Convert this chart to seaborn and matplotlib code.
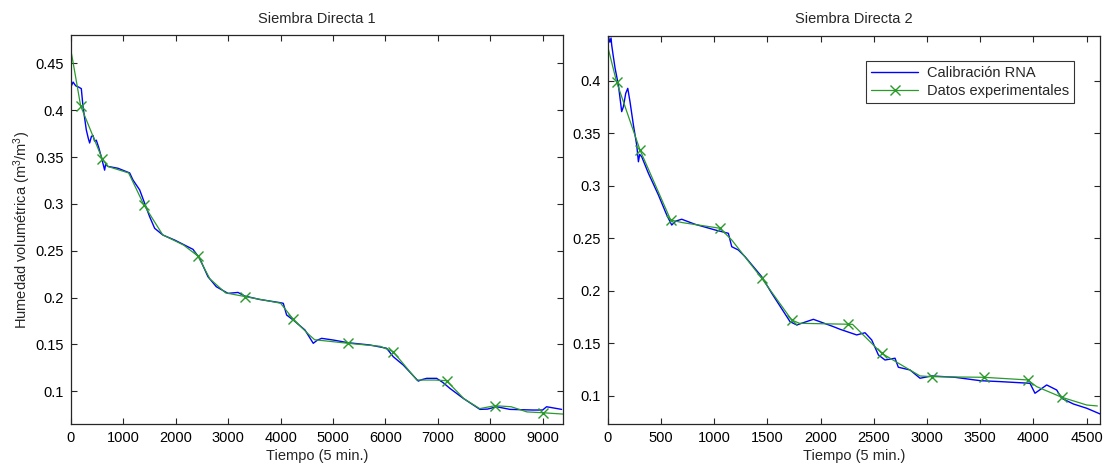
import numpy as np
import pandas as pd
import matplotlib
matplotlib.use("Agg")
import matplotlib.pyplot as plt
from matplotlib.ticker import FuncFormatter
import seaborn as sns

# ---------------- data: Siembra Directa 1 ----------------
rna1_x = [0, 40, 90, 134, 197, 229, 292, 330, 356, 390, 420, 450, 483, 530, 579, 642, 660, 706,
          897, 1120, 1183, 1310, 1406, 1501, 1597, 1755, 1978, 2169, 2328, 2455, 2614, 2773,
          2996, 3186, 3314, 3600, 4000, 4051, 4115, 4242, 4465, 4623, 4700, 4783, 5005, 5291,
          5705, 6024, 6150, 6341, 6627, 6700, 6787, 6978, 7104, 7231, 7485, 7804, 7950, 8122,
          8376, 8821, 9000, 9076, 9362]
rna1_y = [0.425, 0.430, 0.426, 0.425, 0.423, 0.404, 0.379, 0.370, 0.365, 0.372, 0.373, 0.367,
          0.368, 0.360, 0.350, 0.336, 0.342, 0.340, 0.338, 0.333, 0.3255, 0.315, 0.3006,
          0.2863, 0.2739, 0.2667, 0.2614, 0.256, 0.2515, 0.2419, 0.2223, 0.2116, 0.2045,
          0.2055, 0.2017, 0.198, 0.1945, 0.1939, 0.1814, 0.176, 0.1654, 0.1512, 0.1545,
          0.1565, 0.1547, 0.1518, 0.1494, 0.1459, 0.1369, 0.128, 0.1109, 0.1125, 0.1138,
          0.1138, 0.1091, 0.1031, 0.0925, 0.0807, 0.0810, 0.0835, 0.0807, 0.0800, 0.0800,
          0.0835, 0.0807]

exp1_x = [0, 40, 185, 598, 700, 1100, 1393, 1750, 2150, 2423, 2650, 2950, 3320, 4000, 4242,
          4550, 4650, 5291, 5900, 6150, 6600, 6950, 7168, 7500, 7800, 8090, 8400, 8700, 9000,
          9385]
exp1_y = [0.463, 0.451, 0.4044, 0.3479, 0.340, 0.333, 0.2988, 0.267, 0.256, 0.2443, 0.220,
          0.205, 0.2011, 0.194, 0.1768, 0.160, 0.155, 0.1512, 0.148, 0.1422, 0.112, 0.112,
          0.1113, 0.092, 0.0815, 0.0846, 0.0835, 0.0780, 0.0771, 0.0757]
exp1_sample = [0, 0, 1, 1, 0, 0, 1, 0, 0, 1, 0, 0, 1, 0, 1, 0, 0, 1, 0, 1, 0, 0, 1, 0, 0, 1,
               0, 0, 1, 0]

# ---------------- data: Siembra Directa 2 ----------------
rna2_x = [0, 6, 20, 31, 37, 50, 69, 100, 131, 147, 169, 188, 209, 241, 272, 288, 300, 319,
          382, 476, 554, 601, 640, 695, 820, 1008, 1133, 1165, 1227, 1290, 1447, 1541, 1713,
          1776, 1850, 1932, 2120, 2182, 2339, 2417, 2480, 2543, 2605, 2699, 2730, 2840, 2934,
          3044, 3263, 3498, 3686, 3967, 4014, 4124, 4218, 4265, 4374, 4500, 4625]
rna2_y = [0.440, 0.4422, 0.437, 0.441, 0.4343, 0.425, 0.4121, 0.3962, 0.3708, 0.3755,
          0.3883, 0.393, 0.3803, 0.358, 0.339, 0.323, 0.330, 0.3278, 0.312, 0.2913, 0.2723,
          0.2627, 0.2665, 0.2682, 0.2634, 0.258, 0.2548, 0.242, 0.2389, 0.2325, 0.2134,
          0.1976, 0.1705, 0.1674, 0.170, 0.1728, 0.1658, 0.1633, 0.1579, 0.160, 0.1531,
          0.1388, 0.134, 0.1357, 0.1271, 0.1245, 0.1166, 0.1188, 0.1175, 0.1143, 0.1134,
          0.1118, 0.1023, 0.1102, 0.1054, 0.0975, 0.0921, 0.088, 0.0826]

exp2_x = [0, 84, 303, 591, 700, 1055, 1165, 1447, 1728, 1800, 2261, 2300, 2574, 2730, 2934,
          3044, 3535, 3946, 4030, 4265, 4500, 4600]
exp2_y = [0.4327, 0.3988, 0.3342, 0.2675, 0.265, 0.2596, 0.2484, 0.2119, 0.1722, 0.169,
          0.1681, 0.1680, 0.1404, 0.131, 0.1188, 0.1181, 0.1175, 0.115, 0.1086, 0.0985,
          0.0911, 0.0902]
exp2_sample = [0, 1, 1, 1, 0, 1, 0, 1, 1, 0, 1, 0, 1, 0, 0, 1, 1, 1, 0, 1, 0, 0]

titles = ["Siembra Directa 1", "Siembra Directa 2"]
xlabel = "Tiempo (5 min.)"
ylabel = "Humedad volumétrica (m$^3$/m$^3$)"
legend_labels = ["Calibración RNA", "Datos experimentales"]

# ---------------- plotting ----------------
sns.set_theme(style="white")
plt.rcParams["font.family"] = ["Liberation Sans", "DejaVu Sans"]
plt.rcParams["mathtext.fontset"] = "custom"
plt.rcParams["mathtext.rm"] = "Liberation Sans"
plt.rcParams["mathtext.it"] = "Liberation Sans"

fig = plt.figure(figsize=(11.04, 4.67), dpi=100)
ax1 = fig.add_axes([0.0643, 0.0921, 0.4457, 0.8329])
ax2 = fig.add_axes([0.5505, 0.0921, 0.4456, 0.8315])

BLUE = "#0000ff"
GREEN = "#2a9a2a"

panels = [
    (ax1, rna1_x, rna1_y, exp1_x, exp1_y, exp1_sample, (0, 9390), (0.0651, 0.4802),
     np.arange(0, 9001, 1000), np.arange(0.1, 0.451, 0.05)),
    (ax2, rna2_x, rna2_y, exp2_x, exp2_y, exp2_sample, (0, 4622), (0.073, 0.4432),
     np.arange(0, 4501, 500), np.arange(0.1, 0.401, 0.05)),
]

for i, (ax, rx, ry, ex, ey, es, xl, yl, xt, yt) in enumerate(panels):
    rdf = pd.DataFrame({"t": rx, "h": ry})
    edf = pd.DataFrame({"t": ex, "h": ey})
    marks = [k for k, s in enumerate(es) if s]
    sns.lineplot(data=rdf, x="t", y="h", ax=ax, color=BLUE, lw=1.0,
                 label=legend_labels[0], sort=False, estimator=None)
    sns.lineplot(data=edf, x="t", y="h", ax=ax, color=GREEN, lw=0.9,
                 marker="x", markersize=6.5, markeredgewidth=1.0, markevery=marks,
                 markeredgecolor=GREEN, markerfacecolor=GREEN,
                 label=legend_labels[1], sort=False, estimator=None)
    ax.set_xlim(*xl)
    ax.set_ylim(*yl)
    ax.set_xticks(xt)
    ax.set_yticks(yt)
    ax.yaxis.set_major_formatter(FuncFormatter(lambda v, p: "%g" % round(v, 2)))
    ax.tick_params(direction="in", length=4, width=0.8, top=True, right=True,
                   bottom=True, left=True, labelsize=10.5, colors="#262626",
                   labelcolor="black", pad=5)
    for sp in ax.spines.values():
        sp.set_visible(True)
        sp.set_color("#262626")
        sp.set_linewidth(0.9)
    ax.set_title(titles[i], fontsize=10.5, pad=9)
    ax.set_xlabel(xlabel, fontsize=10.5, labelpad=3)
    ax.set_ylabel("")
    ax.grid(False)

ax1.set_ylabel(ylabel, fontsize=10.5, labelpad=2)
ax1.get_legend().remove()
leg = ax2.legend(loc="upper right", bbox_to_anchor=(0.948, 0.935), borderaxespad=0,
                 fontsize=10.5, frameon=True, fancybox=False, edgecolor="black",
                 handlelength=3.2, borderpad=0.35, labelspacing=0.25, handletextpad=0.6)
leg.get_frame().set_linewidth(0.8)

fig.savefig("out.png", dpi=100, facecolor="white")
